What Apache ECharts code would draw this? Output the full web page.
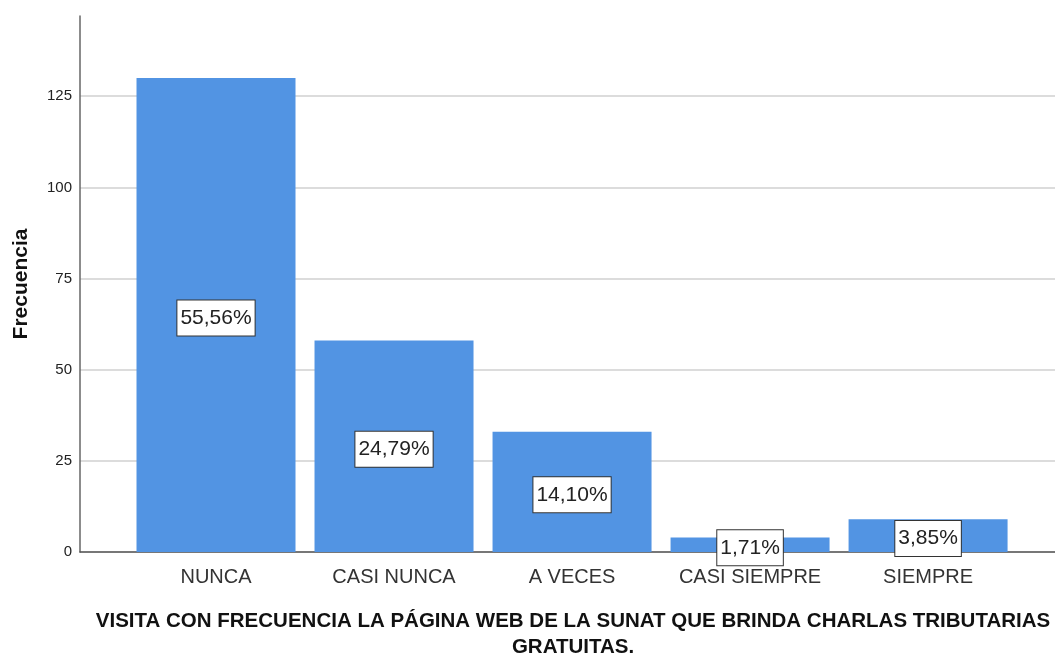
<!DOCTYPE html>
<html>
<head>
<meta charset="utf-8">
<script src="https://cdn.jsdelivr.net/npm/echarts@6/dist/echarts.min.js"></script>
<style>
  html, body { margin: 0; padding: 0; background: #fff; }
  #chart { width: 1055px; height: 655px; }
</style>
</head>
<body>
<div id="chart"></div>
<script>
// categorias y frecuencias
var categorias = ['NUNCA', 'CASI NUNCA', 'A VECES', 'CASI SIEMPRE', 'SIEMPRE'];
var frecuencias = [130, 58, 33, 4, 9];
var porcentajes = ['55,56%', '24,79%', '14,10%', '1,71%', '3,85%'];
var yTicks = [0, 25, 50, 75, 100, 125];

var chart = echarts.init(document.getElementById('chart'));

var datos = frecuencias.map(function (v, i) { return [i, v]; });

chart.setOption({
  animation: false,
  textStyle: { fontFamily: 'Liberation Sans, Arial, sans-serif' },
  grid: { left: 80, right: 0, top: 16, bottom: 103 },
  xAxis: {
    type: 'value',
    min: -0.764,
    max: 4.713,
    axisLine: { show: true, onZero: false, lineStyle: { color: '#555', width: 1.5 } },
    axisTick: { show: false },
    splitLine: { show: false },
    axisLabel: {
      customValues: [0, 1, 2, 3, 4],
      formatter: function (v) { return categorias[Math.round(v)]; },
      fontSize: 20,
      color: '#333',
      margin: 15
    }
  },
  yAxis: {
    type: 'value',
    min: 0,
    max: 147,
    interval: 25,
    name: 'Frecuencia',
    nameLocation: 'middle',
    nameGap: 48,
    nameRotate: 90,
    nameTextStyle: { fontSize: 21, fontWeight: 'bold', color: '#111' },
    axisLine: { show: true, onZero: false, lineStyle: { color: '#666', width: 1.5 } },
    axisTick: { show: false },
    axisLabel: {
      customValues: yTicks,
      fontSize: 15,
      color: '#222',
      margin: 8
    },
    splitLine: { showMaxLine: false, lineStyle: { color: '#d0d0d0', width: 1.5 } }
  },
  series: [{
    type: 'bar',
    data: datos,
    barWidth: 159,
    itemStyle: { color: '#5294e3' },
    label: {
      show: true,
      position: 'inside',
      offset: [0, 3],
      formatter: function (p) { return porcentajes[p.dataIndex]; },
      fontSize: 21,
      color: '#222',
      backgroundColor: '#fff',
      borderColor: '#333',
      borderWidth: 1,
      padding: [8, 3, 6, 3]
    }
  }],
  graphic: [{
    type: 'text',
    x: 573,
    y: 608,
    style: {
      text: 'VISITA CON FRECUENCIA LA PÁGINA WEB DE LA SUNAT QUE BRINDA CHARLAS TRIBUTARIAS\nGRATUITAS.',
      textAlign: 'center',
      fontSize: 20.5,
      fontWeight: 'bold',
      lineHeight: 26,
      fill: '#111',
      fontFamily: 'Liberation Sans, Arial, sans-serif'
    }
  }]
});
</script>
</body>
</html>
